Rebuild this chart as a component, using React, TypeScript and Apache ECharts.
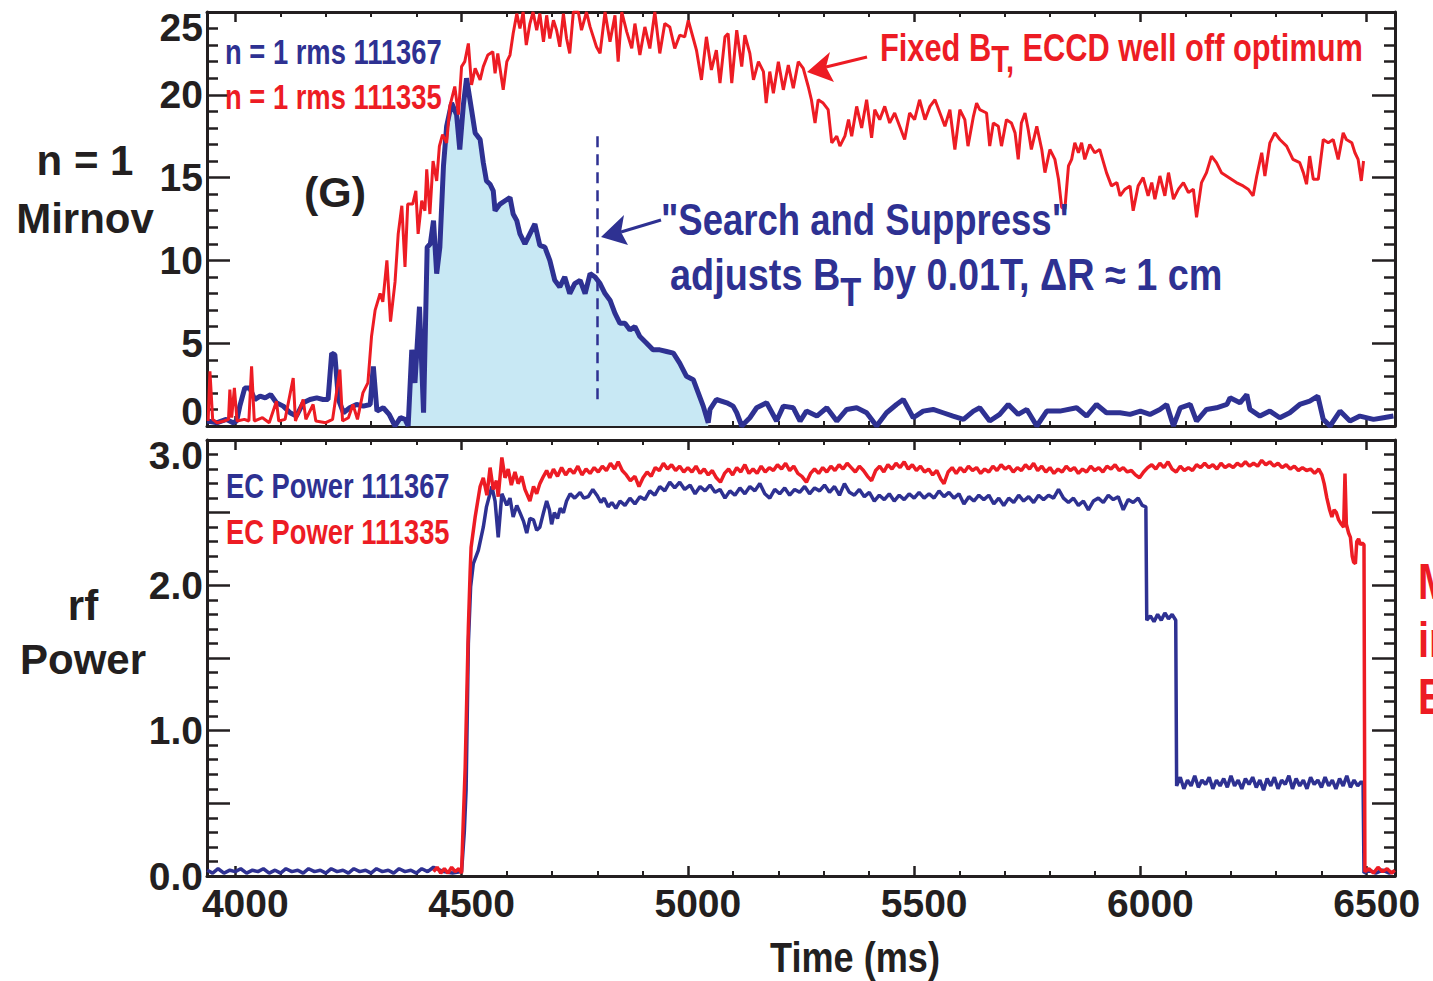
import React, { useEffect, useRef } from 'react';
import * as echarts from 'echarts';

// ---------------- data ----------------
// x axis: time in ms
const X_MIN = 3937.5;
const X_MAX = 6562.5;
const X_TICKS = [4000, 4500, 5000, 5500, 6000, 6500];
const X_TITLE = 'Time (ms)';

// top panel: n = 1 Mirnov rms, shot 111367 (blue)
const mirnov111367: [number, number][] = [
  [3938, 0.3], [3960, 0.2], [3980, 0.4], [3995, 0.2], [4003, 0.3], [4010, 1.2], [4021, 2.3], [4032, 2.3],
  [4043, 1.6], [4055, 1.8], [4066, 1.7], [4078, 1.9], [4091, 1.4], [4106, 1.2], [4121, 0.8], [4135, 0.6],
  [4150, 1.4], [4165, 1.6], [4180, 1.7], [4194, 1.6], [4205, 1.6], [4213, 4.4], [4220, 4.3], [4228, 1.6],
  [4239, 0.8], [4253, 1.1], [4268, 1.3], [4283, 1.2], [4298, 1.3], [4305, 3.6], [4313, 0.9], [4327, 1.1],
  [4340, 0.7], [4353, 0.0], [4365, 0.5], [4375, 0.4], [4382, 0.0], [4390, 4.6], [4397, 2.6], [4407, 7.2],
  [4416, 0.8], [4424, 10.8], [4431, 11.0], [4438, 12.4], [4445, 9.2], [4452, 10.8], [4460, 15.7], [4467, 18.1],
  [4478, 19.5], [4489, 18.8], [4496, 16.7], [4504, 19.4], [4511, 21.0], [4522, 19.1], [4530, 17.7], [4541, 17.3],
  [4548, 15.9], [4555, 14.8], [4563, 14.6], [4570, 14.2], [4574, 13.0], [4585, 13.4], [4596, 13.6], [4607, 13.8],
  [4614, 12.8], [4622, 12.4], [4629, 11.6], [4640, 11.0], [4651, 11.6], [4662, 12.2], [4673, 10.9], [4684, 10.8],
  [4695, 10.0], [4706, 8.8], [4717, 8.4], [4728, 9.0], [4739, 8.0], [4750, 8.6], [4762, 8.8], [4773, 8.0],
  [4784, 9.2], [4795, 9.0], [4806, 8.6], [4817, 8.0], [4828, 7.6], [4839, 6.8], [4850, 6.2], [4861, 6.2],
  [4872, 5.8], [4883, 6.0], [4894, 5.4], [4909, 5.0], [4923, 4.6], [4938, 4.6], [4953, 4.5], [4968, 4.4],
  [4982, 3.8], [4997, 3.0], [5012, 2.8], [5023, 2.0], [5034, 1.2], [5045, 0.2], [5049, 1.0], [5063, 1.6],
  [5086, 1.4], [5100, 1.2], [5108, 0.8], [5119, 0.0], [5137, 0.5], [5152, 1.1], [5174, 1.4], [5196, 0.3],
  [5211, 1.2], [5233, 1.1], [5248, 0.3], [5262, 0.9], [5285, 0.6], [5307, 1.1], [5329, 0.3], [5351, 1.0],
  [5373, 1.1], [5395, 0.8], [5417, 0.0], [5439, 0.8], [5461, 1.3], [5476, 1.6], [5498, 0.5], [5520, 0.9],
  [5542, 1.0], [5564, 0.8], [5586, 0.6], [5609, 0.4], [5631, 0.9], [5645, 1.1], [5667, 0.3], [5689, 0.7],
  [5708, 1.3], [5730, 0.7], [5749, 1.0], [5771, 0.0], [5793, 0.9], [5822, 0.9], [5859, 1.1], [5881, 0.6],
  [5903, 1.3], [5925, 0.8], [5955, 0.8], [5977, 0.7], [6000, 0.9], [6021, 0.7], [6043, 1.0], [6058, 1.3],
  [6073, 0.0], [6088, 1.1], [6110, 1.3], [6124, 0.3], [6146, 1.0], [6168, 1.1], [6191, 1.3], [6198, 1.7],
  [6220, 1.4], [6235, 1.9], [6242, 1.0], [6264, 0.6], [6286, 0.9], [6308, 0.5], [6330, 0.8], [6352, 1.3],
  [6374, 1.5], [6392, 1.8], [6404, 0.4], [6419, 0.0], [6441, 0.9], [6463, 0.3], [6485, 0.6], [6515, 0.4],
  [6537, 0.5], [6559, 0.6],
];

// top panel: n = 1 Mirnov rms, shot 111335 (red)
const mirnov111335: [number, number][] = [
  [3940, 0.3], [3944, 3.3], [3950, 0.4], [3960, 0.2], [3975, 0.3], [3985, 0.4], [3988, 2.2], [3992, 0.5],
  [3998, 2.3], [4004, 0.3], [4020, 0.4], [4030, 0.3], [4036, 3.6], [4042, 0.3], [4060, 0.5], [4075, 0.2],
  [4091, 1.5], [4096, 0.3], [4110, 0.4], [4128, 2.9], [4133, 0.3], [4150, 1.6], [4156, 0.4], [4172, 1.3],
  [4178, 0.3], [4200, 0.2], [4215, 0.4], [4231, 3.4], [4237, 0.3], [4250, 0.5], [4260, 1.3], [4270, 0.4],
  [4282, 2.0], [4293, 2.6], [4301, 5.4], [4309, 7.0], [4320, 8.0], [4326, 7.5], [4335, 10.0], [4343, 6.3],
  [4353, 8.7], [4360, 11.6], [4368, 13.3], [4375, 9.6], [4381, 13.4], [4392, 13.4], [4399, 14.2], [4404, 11.6],
  [4412, 13.6], [4419, 13.0], [4423, 15.5], [4430, 12.8], [4437, 16.0], [4445, 14.8], [4451, 16.9], [4458, 17.6],
  [4467, 17.1], [4474, 19.3], [4485, 20.5], [4493, 18.8], [4500, 21.7], [4507, 22.0], [4515, 23.1], [4522, 20.6],
  [4530, 21.6], [4541, 20.9], [4548, 21.7], [4558, 22.4], [4569, 22.6], [4574, 21.3], [4580, 22.5], [4592, 20.3],
  [4600, 22.0], [4607, 22.4], [4614, 23.7], [4622, 24.9], [4629, 24.0], [4636, 25], [4643, 23.0], [4651, 24.3],
  [4658, 25], [4666, 23.9], [4673, 24.9], [4681, 23.2], [4688, 24.8], [4695, 23.4], [4703, 24.5], [4710, 23.9],
  [4717, 22.9], [4725, 24.9], [4732, 23.4], [4739, 22.5], [4747, 25], [4758, 25], [4765, 23.9], [4776, 25],
  [4784, 24.1], [4798, 22.9], [4806, 22.5], [4817, 25], [4828, 23.2], [4839, 24.8], [4846, 22.0], [4854, 25],
  [4865, 23.8], [4876, 22.8], [4883, 24.3], [4894, 22.4], [4905, 24.1], [4916, 22.8], [4927, 25], [4938, 22.5],
  [4949, 24.3], [4960, 24.1], [4971, 22.8], [4982, 23.6], [4993, 23.5], [5001, 24.5], [5012, 23.4], [5019, 22.7],
  [5030, 20.9], [5041, 23.5], [5052, 21.5], [5063, 22.7], [5071, 20.7], [5082, 23.5], [5089, 23.7], [5097, 20.7],
  [5108, 23.9], [5119, 21.7], [5126, 23.6], [5137, 22.5], [5145, 20.9], [5156, 22.0], [5167, 21.4], [5173, 19.5],
  [5181, 21.4], [5189, 20.1], [5200, 22.0], [5211, 20.3], [5222, 21.8], [5233, 20.4], [5244, 22.0], [5255, 21.6],
  [5266, 20.5], [5273, 19.7], [5281, 18.3], [5288, 19.7], [5299, 19.5], [5310, 19.1], [5318, 17.1], [5329, 17.5],
  [5336, 16.9], [5347, 17.5], [5355, 18.5], [5362, 17.5], [5373, 19.3], [5384, 18.0], [5395, 19.7], [5406, 17.4],
  [5413, 19.1], [5424, 18.5], [5435, 19.3], [5446, 18.3], [5457, 18.9], [5468, 18.1], [5479, 17.3], [5490, 18.9],
  [5501, 18.5], [5512, 19.7], [5524, 18.5], [5535, 19.3], [5546, 19.7], [5557, 18.9], [5568, 18.1], [5579, 19.1],
  [5590, 16.7], [5601, 19.1], [5612, 18.5], [5619, 16.9], [5631, 18.7], [5638, 19.5], [5645, 19.1], [5660, 18.9],
  [5667, 16.9], [5675, 18.3], [5686, 18.1], [5693, 16.9], [5704, 18.5], [5715, 18.3], [5723, 17.7], [5730, 16.1],
  [5737, 18.3], [5745, 18.9], [5752, 17.9], [5759, 16.7], [5771, 18.1], [5782, 16.7], [5789, 15.3], [5800, 16.7],
  [5811, 16.1], [5819, 14.9], [5826, 13.2], [5833, 13.1], [5841, 15.7], [5848, 16.1], [5855, 17.1], [5863, 16.5],
  [5870, 17.1], [5877, 16.1], [5888, 17.0], [5899, 16.5], [5910, 16.7], [5925, 15.3], [5936, 14.5], [5948, 14.7],
  [5955, 13.9], [5966, 14.3], [5977, 14.5], [5984, 13.0], [5995, 14.5], [6006, 15.0], [6017, 13.9], [6025, 14.7],
  [6032, 13.7], [6043, 15.1], [6054, 13.9], [6062, 15.3], [6073, 13.7], [6084, 14.3], [6095, 14.7], [6106, 14.1],
  [6117, 14.3], [6124, 12.6], [6135, 14.7], [6146, 15.3], [6157, 16.3], [6168, 15.9], [6179, 15.3], [6190, 15.1],
  [6201, 14.9], [6212, 14.7], [6227, 14.5], [6238, 14.3], [6249, 13.9], [6257, 15.1], [6268, 16.5], [6275, 15.1],
  [6286, 17.1], [6297, 17.7], [6308, 17.3], [6323, 16.9], [6337, 16.1], [6352, 15.9], [6360, 15.3], [6367, 14.6],
  [6374, 16.3], [6382, 14.9], [6393, 14.9], [6404, 17.3], [6415, 17.1], [6426, 17.3], [6437, 16.1], [6448, 17.7],
  [6455, 17.3], [6467, 17.1], [6474, 16.5], [6481, 16.1], [6488, 14.8], [6493, 16.0],
];

// shaded region under the 111367 Mirnov trace (ms)
const FILL_START = 4352;
const FILL_END = 5045;
// "Search and Suppress" marker: time, top and bottom value
const MARKER_T = 4800;
const MARKER_TOP = 17.5;
const MARKER_BOTTOM = 1.2;

// bottom panel: EC power, shot 111367 (blue)
const ecPower111367: [number, number][] = [
  [3938, 0.04], [3950, 0.02], [3962, 0.05], [3975, 0.02], [3988, 0.04], [4000, 0.03], [4012, 0.05], [4025, 0.02],
  [4038, 0.04], [4050, 0.03], [4062, 0.05], [4075, 0.02], [4088, 0.04], [4100, 0.02], [4112, 0.05], [4125, 0.03],
  [4138, 0.04], [4150, 0.02], [4162, 0.05], [4175, 0.03], [4188, 0.04], [4200, 0.02], [4212, 0.05], [4225, 0.03],
  [4238, 0.04], [4250, 0.02], [4262, 0.05], [4275, 0.03], [4288, 0.04], [4300, 0.02], [4312, 0.05], [4325, 0.03],
  [4338, 0.04], [4350, 0.02], [4362, 0.05], [4375, 0.03], [4388, 0.04], [4400, 0.02], [4412, 0.05], [4425, 0.03],
  [4438, 0.06], [4460, 0.03], [4480, 0.02], [4500, 0.03], [4506, 0.3], [4510, 0.59], [4515, 1.6], [4520, 1.99],
  [4526, 2.15], [4537, 2.24], [4548, 2.4], [4555, 2.54], [4567, 2.68], [4574, 2.58], [4581, 2.33], [4589, 2.63],
  [4600, 2.55], [4607, 2.6], [4614, 2.47], [4622, 2.55], [4629, 2.5], [4637, 2.44], [4644, 2.36], [4651, 2.46],
  [4659, 2.45], [4666, 2.38], [4673, 2.4], [4681, 2.5], [4688, 2.58], [4694, 2.52], [4699, 2.42], [4705, 2.5],
  [4712, 2.46], [4718, 2.53], [4725, 2.5], [4732, 2.58], [4740, 2.63], [4750, 2.6], [4762, 2.64], [4770, 2.6],
  [4780, 2.61], [4790, 2.66], [4799, 2.62], [4808, 2.57], [4815, 2.6], [4824, 2.54], [4832, 2.57], [4841, 2.53],
  [4850, 2.58], [4861, 2.55], [4872, 2.6], [4883, 2.56], [4894, 2.61], [4905, 2.59], [4916, 2.65], [4927, 2.62],
  [4938, 2.68], [4949, 2.65], [4960, 2.71], [4971, 2.67], [4982, 2.71], [4993, 2.66], [5005, 2.69], [5016, 2.63],
  [5027, 2.68], [5038, 2.65], [5049, 2.69], [5060, 2.64], [5071, 2.66], [5082, 2.6], [5093, 2.65], [5104, 2.62],
  [5115, 2.67], [5126, 2.63], [5137, 2.68], [5148, 2.65], [5159, 2.7], [5170, 2.63], [5181, 2.6], [5192, 2.66],
  [5203, 2.63], [5214, 2.67], [5225, 2.62], [5236, 2.66], [5247, 2.64], [5258, 2.68], [5269, 2.63], [5280, 2.67],
  [5291, 2.65], [5302, 2.69], [5313, 2.64], [5324, 2.68], [5335, 2.62], [5346, 2.7], [5357, 2.64], [5368, 2.62],
  [5379, 2.66], [5390, 2.61], [5401, 2.64], [5412, 2.58], [5423, 2.62], [5434, 2.59], [5445, 2.63], [5456, 2.58],
  [5467, 2.62], [5478, 2.59], [5489, 2.63], [5500, 2.6], [5511, 2.64], [5522, 2.6], [5533, 2.63], [5544, 2.6],
  [5555, 2.65], [5566, 2.61], [5577, 2.64], [5588, 2.6], [5599, 2.63], [5610, 2.56], [5621, 2.61], [5632, 2.58],
  [5643, 2.62], [5654, 2.59], [5665, 2.62], [5676, 2.56], [5687, 2.6], [5698, 2.55], [5709, 2.6], [5720, 2.57],
  [5731, 2.62], [5742, 2.58], [5753, 2.61], [5764, 2.57], [5775, 2.62], [5786, 2.59], [5797, 2.62], [5808, 2.6],
  [5819, 2.66], [5830, 2.6], [5841, 2.57], [5852, 2.6], [5863, 2.55], [5874, 2.58], [5885, 2.52], [5896, 2.58],
  [5907, 2.6], [5918, 2.57], [5929, 2.62], [5940, 2.59], [5951, 2.61], [5962, 2.52], [5973, 2.59], [5984, 2.57],
  [5995, 2.6], [6004, 2.55], [6012, 2.54], [6014, 1.76], [6022, 1.79], [6030, 1.75], [6038, 1.8], [6046, 1.76],
  [6054, 1.81], [6062, 1.77], [6070, 1.8], [6078, 1.76], [6080, 0.62], [6088, 0.68], [6096, 0.6], [6104, 0.66],
  [6112, 0.62], [6120, 0.69], [6128, 0.61], [6136, 0.66], [6144, 0.63], [6152, 0.68], [6160, 0.6], [6168, 0.66],
  [6176, 0.62], [6184, 0.67], [6192, 0.61], [6200, 0.69], [6208, 0.62], [6216, 0.66], [6224, 0.6], [6232, 0.67],
  [6240, 0.63], [6248, 0.68], [6256, 0.61], [6264, 0.66], [6272, 0.59], [6280, 0.67], [6288, 0.62], [6296, 0.68],
  [6304, 0.6], [6312, 0.66], [6320, 0.63], [6328, 0.69], [6336, 0.6], [6344, 0.67], [6352, 0.62], [6360, 0.66],
  [6368, 0.6], [6376, 0.68], [6384, 0.63], [6392, 0.66], [6400, 0.61], [6408, 0.68], [6416, 0.62], [6424, 0.66],
  [6432, 0.6], [6440, 0.67], [6448, 0.62], [6456, 0.69], [6464, 0.61], [6472, 0.66], [6480, 0.62], [6488, 0.65],
  [6492, 0.63], [6494, 0.02], [6505, 0.04], [6520, 0.02], [6535, 0.04], [6550, 0.02], [6562, 0.03],
];

// bottom panel: EC power, shot 111335 (red)
const ecPower111335: [number, number][] = [
  [4438, 0.03], [4446, 0.06], [4454, 0.02], [4462, 0.05], [4470, 0.02], [4478, 0.06], [4486, 0.03], [4494, 0.05],
  [4500, 0.02], [4504, 0.4], [4508, 0.75], [4515, 1.71], [4519, 2.1], [4521, 2.26], [4530, 2.47], [4541, 2.68],
  [4548, 2.74], [4556, 2.62], [4563, 2.81], [4570, 2.66], [4577, 2.72], [4581, 2.61], [4589, 2.88], [4596, 2.74],
  [4603, 2.8], [4610, 2.69], [4618, 2.78], [4625, 2.7], [4633, 2.75], [4640, 2.66], [4651, 2.58], [4659, 2.68],
  [4666, 2.63], [4673, 2.7], [4681, 2.75], [4688, 2.79], [4695, 2.74], [4703, 2.8], [4712, 2.75], [4721, 2.81],
  [4730, 2.76], [4739, 2.8], [4748, 2.77], [4757, 2.82], [4766, 2.76], [4775, 2.8], [4784, 2.77], [4793, 2.81],
  [4802, 2.78], [4811, 2.82], [4820, 2.79], [4829, 2.84], [4838, 2.8], [4846, 2.85], [4855, 2.79], [4864, 2.76],
  [4873, 2.72], [4883, 2.75], [4892, 2.68], [4901, 2.74], [4910, 2.78], [4919, 2.75], [4928, 2.81], [4937, 2.79],
  [4946, 2.84], [4955, 2.8], [4964, 2.83], [4973, 2.79], [4982, 2.82], [4991, 2.78], [5000, 2.81], [5009, 2.78],
  [5018, 2.82], [5027, 2.77], [5036, 2.8], [5045, 2.76], [5054, 2.79], [5063, 2.74], [5072, 2.71], [5081, 2.77],
  [5090, 2.8], [5099, 2.76], [5108, 2.81], [5117, 2.78], [5126, 2.83], [5135, 2.77], [5144, 2.8], [5153, 2.77],
  [5162, 2.82], [5171, 2.78], [5180, 2.81], [5189, 2.79], [5198, 2.83], [5207, 2.8], [5216, 2.84], [5225, 2.79],
  [5234, 2.82], [5243, 2.77], [5252, 2.75], [5262, 2.71], [5271, 2.77], [5280, 2.8], [5289, 2.77], [5298, 2.81],
  [5307, 2.78], [5316, 2.82], [5325, 2.79], [5334, 2.83], [5343, 2.8], [5352, 2.84], [5361, 2.81], [5370, 2.78],
  [5379, 2.82], [5388, 2.79], [5397, 2.75], [5406, 2.72], [5415, 2.79], [5424, 2.82], [5433, 2.78], [5442, 2.83],
  [5451, 2.8], [5460, 2.84], [5469, 2.81], [5478, 2.85], [5487, 2.8], [5496, 2.83], [5505, 2.79], [5514, 2.82],
  [5523, 2.78], [5532, 2.8], [5541, 2.76], [5550, 2.79], [5559, 2.73], [5566, 2.7], [5575, 2.78], [5584, 2.81],
  [5593, 2.77], [5602, 2.81], [5611, 2.78], [5620, 2.82], [5629, 2.79], [5638, 2.81], [5647, 2.77], [5656, 2.8],
  [5665, 2.78], [5674, 2.82], [5683, 2.79], [5692, 2.83], [5701, 2.8], [5710, 2.82], [5719, 2.78], [5728, 2.81],
  [5737, 2.79], [5746, 2.83], [5755, 2.8], [5764, 2.84], [5773, 2.79], [5782, 2.82], [5791, 2.78], [5800, 2.81],
  [5809, 2.77], [5818, 2.8], [5827, 2.78], [5836, 2.82], [5845, 2.79], [5854, 2.81], [5863, 2.77], [5872, 2.8],
  [5881, 2.78], [5890, 2.82], [5899, 2.79], [5908, 2.81], [5917, 2.78], [5926, 2.82], [5935, 2.8], [5944, 2.83],
  [5953, 2.79], [5962, 2.81], [5971, 2.78], [5980, 2.79], [5989, 2.76], [5998, 2.74], [6007, 2.78], [6016, 2.81],
  [6025, 2.83], [6034, 2.8], [6043, 2.84], [6052, 2.81], [6061, 2.85], [6070, 2.8], [6079, 2.78], [6088, 2.82],
  [6097, 2.79], [6106, 2.81], [6115, 2.79], [6124, 2.83], [6133, 2.81], [6142, 2.84], [6151, 2.81], [6160, 2.83],
  [6169, 2.8], [6178, 2.84], [6187, 2.81], [6196, 2.83], [6205, 2.81], [6214, 2.84], [6223, 2.82], [6232, 2.85],
  [6241, 2.82], [6250, 2.84], [6259, 2.82], [6268, 2.86], [6277, 2.83], [6286, 2.85], [6295, 2.82], [6304, 2.84],
  [6313, 2.81], [6322, 2.83], [6331, 2.8], [6340, 2.82], [6349, 2.79], [6358, 2.81], [6367, 2.79], [6376, 2.8],
  [6385, 2.77], [6394, 2.8], [6401, 2.76], [6406, 2.7], [6412, 2.6], [6418, 2.52], [6423, 2.47], [6428, 2.52],
  [6433, 2.5], [6438, 2.45], [6444, 2.42], [6449, 2.4], [6452, 2.77], [6455, 2.42], [6460, 2.36], [6464, 2.33],
  [6468, 2.2], [6471, 2.16], [6475, 2.15], [6478, 2.3], [6482, 2.32], [6486, 2.28], [6490, 2.29], [6494, 2.28],
  [6496, 0.03], [6505, 0.05], [6515, 0.02], [6525, 0.06], [6535, 0.03], [6545, 0.05], [6555, 0.02], [6562, 0.04],
];

// ---------------- styling ----------------
const BLUE = '#2e3192';
const RED = '#ed1c24';
const FILL = '#c8e8f4';
const INK = '#231f20';
const SANS = "'Liberation Sans', Arial, Helvetica, sans-serif";
const TICK_FONT = 39;

const LEFT = 207;
const WIDTH = 1188;
const TOP_GRID = { left: LEFT, width: WIDTH, top: 12, height: 414 };
const BOT_GRID = { left: LEFT, width: WIDTH, top: 440, height: 436 };

function xAxis(gridIndex: number, position: 'top' | 'bottom', labels: boolean): any {
  return {
    type: 'value',
    gridIndex,
    position,
    min: X_MIN,
    max: X_MAX,
    splitNumber: 5,
    axisLine: { show: true, onZero: false, lineStyle: { color: INK, width: 3 } },
    axisTick: { show: true, inside: true, length: 10, lineStyle: { color: INK, width: 2.5 } },
    minorTick: { show: true, splitNumber: 5, length: 5, lineStyle: { color: INK, width: 2 } },
    splitLine: { show: false },
    axisLabel: labels
      ? {
          show: true,
          fontSize: TICK_FONT,
          fontFamily: SANS,
          fontWeight: 'bold',
          color: INK,
          margin: 8,
          padding: [0, 0, 0, 20],
          showMinLabel: false,
          showMaxLabel: false,
          formatter: (v: number) => (X_TICKS.includes(v) ? String(v) : ''),
        }
      : { show: false },
  };
}

function yAxis(
  gridIndex: number,
  position: 'left' | 'right',
  max: number,
  interval: number,
  labels: boolean,
  fmt: (v: number) => string,
  edge: 'top' | 'bottom',
): any {
  return {
    type: 'value',
    gridIndex,
    position,
    min: 0,
    max,
    interval,
    axisLine: { show: true, onZero: false, lineStyle: { color: INK, width: 3 } },
    axisTick: { show: true, inside: true, length: 23, lineStyle: { color: INK, width: 2.5 } },
    minorTick: { show: true, splitNumber: 5, length: 11, lineStyle: { color: INK, width: 2.5 } },
    splitLine: { show: false },
    axisLabel: labels
      ? {
          show: true,
          fontSize: TICK_FONT,
          fontFamily: SANS,
          fontWeight: 'bold',
          color: INK,
          margin: 4,
          lineHeight: 30,
          formatter: fmt,
          verticalAlignMaxLabel: 'top',
          verticalAlignMinLabel: edge === 'bottom' ? 'bottom' : 'middle',
        }
      : { show: false },
  };
}

// bold text; squeeze < 1 compresses it horizontally (condensed look)
function label(x: number, y: number, text: string, color: string, size: number, squeeze: number, align = 'left'): any {
  return {
    type: 'text',
    x,
    y,
    scaleX: squeeze,
    z: 100,
    style: {
      text,
      fill: color,
      fontSize: size,
      fontFamily: SANS,
      fontWeight: 'bold',
      textAlign: align,
      textVerticalAlign: 'middle',
    },
  };
}

function subLabel(x: number, y: number, parts: string[], color: string, size: number, subSize: number, drop: number, squeeze: number): any {
  const text = `{m|${parts[0]}}{s|${parts[1]}}{m|${parts[2]}}`;
  return {
    type: 'text',
    x,
    y,
    scaleX: squeeze,
    z: 100,
    style: {
      text,
      fill: color,
      fontSize: size,
      fontFamily: SANS,
      fontWeight: 'bold',
      textAlign: 'left',
      textVerticalAlign: 'middle',
      rich: {
        m: { fill: color, fontSize: size, fontFamily: SANS, fontWeight: 'bold' },
        s: { fill: color, fontSize: subSize, fontFamily: SANS, fontWeight: 'bold', padding: [drop * 2, 0, 0, 0] },
      },
    },
  };
}

function arrow(from: number[], tip: number[], barbA: number[], notch: number[], barbB: number[], color: string): any[] {
  return [
    { type: 'line', z: 100, shape: { x1: from[0], y1: from[1], x2: notch[0], y2: notch[1] }, style: { stroke: color, lineWidth: 3 } },
    { type: 'polygon', z: 100, shape: { points: [tip, barbA, notch, barbB] }, style: { fill: color } },
  ];
}

function buildOption(): any {
  const fillData = mirnov111367.filter(([t]) => t >= FILL_START && t <= FILL_END);
  return {
    animation: false,
    backgroundColor: '#ffffff',
    grid: [TOP_GRID, BOT_GRID],
    xAxis: [xAxis(0, 'bottom', false), xAxis(0, 'top', false), xAxis(1, 'bottom', true), xAxis(1, 'top', false)],
    yAxis: [
      yAxis(0, 'left', 25, 5, true, (v: number) => String(v), 'bottom'),
      yAxis(0, 'right', 25, 5, false, (v: number) => String(v), 'bottom'),
      yAxis(1, 'left', 3, 0.5, true, (v: number) => (Math.abs(v - Math.round(v)) < 1e-9 ? v.toFixed(1) : ''), 'top'),
      yAxis(1, 'right', 3, 0.5, false, (v: number) => String(v), 'top'),
    ],
    series: [
      {
        type: 'line',
        name: 'fill',
        xAxisIndex: 0,
        yAxisIndex: 0,
        data: fillData,
        symbol: 'none',
        lineStyle: { width: 0 },
        areaStyle: { color: FILL, opacity: 1 },
        z: 1,
      },
      {
        type: 'line',
        name: 'n = 1 rms 111367',
        xAxisIndex: 0,
        yAxisIndex: 0,
        data: mirnov111367,
        symbol: 'none',
        lineStyle: { color: BLUE, width: 5 },
        z: 3,
        markLine: {
          silent: true,
          symbol: ['none', 'none'],
          label: { show: false },
          lineStyle: { color: BLUE, width: 2.5, type: [11, 7] },
          data: [[{ coord: [MARKER_T, MARKER_TOP] }, { coord: [MARKER_T, MARKER_BOTTOM] }]],
        },
      },
      {
        type: 'line',
        name: 'n = 1 rms 111335',
        xAxisIndex: 0,
        yAxisIndex: 0,
        data: mirnov111335,
        symbol: 'none',
        lineStyle: { color: RED, width: 3 },
        z: 4,
      },
      {
        type: 'line',
        name: 'EC Power 111367',
        xAxisIndex: 2,
        yAxisIndex: 2,
        data: ecPower111367,
        symbol: 'none',
        lineStyle: { color: BLUE, width: 3.5 },
        z: 3,
      },
      {
        type: 'line',
        name: 'EC Power 111335',
        xAxisIndex: 2,
        yAxisIndex: 2,
        data: ecPower111335,
        symbol: 'none',
        lineStyle: { color: RED, width: 3.5 },
        z: 4,
      },
    ],
    graphic: [
      label(85, 160, 'n = 1', INK, 42, 1, 'center'),
      label(85, 218, 'Mirnov', INK, 42, 1, 'center'),
      label(83, 605, 'rf', INK, 42, 1, 'center'),
      label(83, 659, 'Power', INK, 42, 1, 'center'),
      label(335, 192, '(G)', INK, 43, 1, 'center'),
      label(225, 52, 'n = 1 rms 111367', BLUE, 36, 0.76),
      label(225, 97, 'n = 1 rms 111335', RED, 36, 0.76),
      label(226, 486, 'EC Power 111367', BLUE, 36, 0.76),
      label(226, 532, 'EC Power 111335', RED, 36, 0.76),
      subLabel(880, 47, ['Fixed B', 'T,', ' ECCD well off optimum'], RED, 39, 37, 12, 0.79),
      label(661, 220, '"Search and Suppress"', BLUE, 44, 0.83),
      subLabel(670, 275, ['adjusts B', 'T', ' by 0.01T, ΔR ≈ 1 cm'], BLUE, 44, 40, 17, 0.86),
      label(855, 957, X_TITLE, INK, 43, 0.84, 'center'),
      label(1418, 582, 'M', RED, 50, 0.8),
      label(1418, 640, 'in', RED, 50, 0.8),
      label(1418, 697, 'E', RED, 50, 0.8),
      ...arrow([867, 57], [807, 72], [830, 52], [826, 67], [834, 82], RED),
      ...arrow([661, 220], [601, 237], [624, 215], [621, 232], [628, 245], BLUE),
    ],
  };
}

export default function App() {
  const ref = useRef<HTMLDivElement>(null);
  useEffect(() => {
    if (!ref.current) return;
    const chart = echarts.init(ref.current, null, { renderer: 'svg', width: 1433, height: 981 });
    chart.setOption(buildOption());
    return () => chart.dispose();
  }, []);
  return (
    <div
      ref={ref}
      style={{ position: 'absolute', left: 0, top: 0, width: 1433, height: 981, background: '#ffffff', overflow: 'hidden' }}
    />
  );
}
